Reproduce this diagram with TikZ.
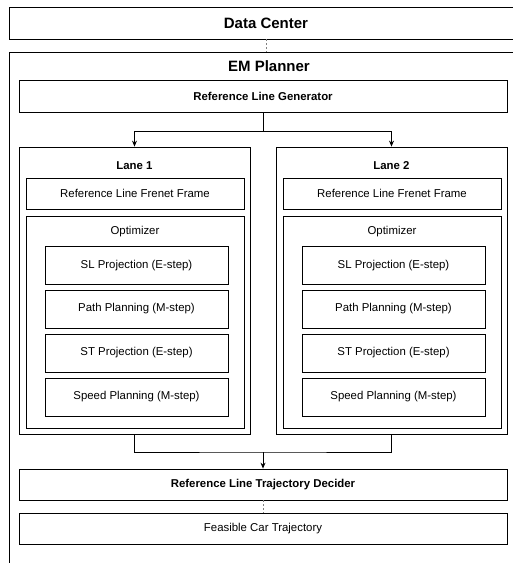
\documentclass[tikz,border=0pt]{standalone}
\usepackage{fontspec}
\setmainfont{Liberation Sans}
\usetikzlibrary{arrows.meta}

\begin{document}
\begin{tikzpicture}[x=1pt, y=-1pt,
        box/.style = {draw, rectangle, line width=0.8pt, inner sep=0pt, font=\fontsize{11.4}{13}\selectfont},
        boldbox/.style = {box, font=\fontsize{11.4}{13}\selectfont\bfseries},
        bigbox/.style = {box, font=\fontsize{15}{17}\selectfont\bfseries},
        label/.style = {inner sep=0pt, font=\fontsize{11.4}{13}\selectfont},
        flow/.style = {line width=0.8pt, -{Stealth[length=6pt, width=5pt]}},
        link/.style = {line width=0.8pt, dash pattern=on 2pt off 2pt, gray}
    ]
        \clip (0, 0) rectangle (513, 563);

        % outer boxes
        \node[bigbox, minimum width=514pt, minimum height=32pt] (dc) at (266, 23) {Data Center};
        \node[box, minimum width=520pt, minimum height=528pt] (em) at (269, 316) {};
        \node[label, font=\fontsize{15}{17}\selectfont\bfseries] (emtitle) at (269, 66) {EM Planner};

        \node[boldbox, minimum width=488pt, minimum height=32pt] (rlg) at (263, 96) {Reference Line Generator};

        % one column per lane
        \foreach \n/\cx in {1/134.5, 2/391.5} {
            \node[box, minimum width=231pt, minimum height=287pt] (lane\n) at (\cx, 290.5) {};
            \node[label, font=\fontsize{11.4}{13}\selectfont\bfseries] (lanetitle\n) at (\cx, 166) {Lane \n};
            \node[box, minimum width=218pt, minimum height=31pt] (frenet\n) at (\cx+0.5, 193.5) {Reference Line Frenet Frame};
            \node[box, minimum width=218pt, minimum height=212pt] (opt\n) at (\cx+0.5, 322) {};
            \node[label] (opttitle\n) at (\cx+0.5, 232) {Optimizer};

            \node[box, minimum width=183pt, minimum height=38pt] (sl\n) at (\cx+2, 265.5) {SL Projection (E-step)};
            \node[box, minimum width=183pt, minimum height=38pt] (path\n) at (\cx+2, 309) {Path Planning (M-step)};
            \node[box, minimum width=183pt, minimum height=38pt] (st\n) at (\cx+2, 353) {ST Projection (E-step)};
            \node[box, minimum width=183pt, minimum height=38pt] (speed\n) at (\cx+2, 397) {Speed Planning (M-step)};
        }

        \node[boldbox, minimum width=488pt, minimum height=31pt] (dec) at (263, 484.5) {Reference Line Trajectory Decider};
        \node[box, minimum width=488pt, minimum height=31pt] (feas) at (263, 528.5) {Feasible Car Trajectory};

        % connectors
        \coordinate (split) at (263, 131);
        \coordinate (merge) at (263, 452);

        \draw[line width=0.8pt]
            (rlg.south) -- (split)
            (lane1.south) |- (merge) -| (lane2.south)
        ;
        \draw[flow] (split) -| (lane1.north);
        \draw[flow] (split) -| (lane2.north);
        \draw[flow] (merge) -- (dec.north);

        \draw[link]
            (dc.south) -- (dc.south |- em.north)
            (dec.south) -- (feas.north)
        ;
    \end{tikzpicture}
\end{document}
